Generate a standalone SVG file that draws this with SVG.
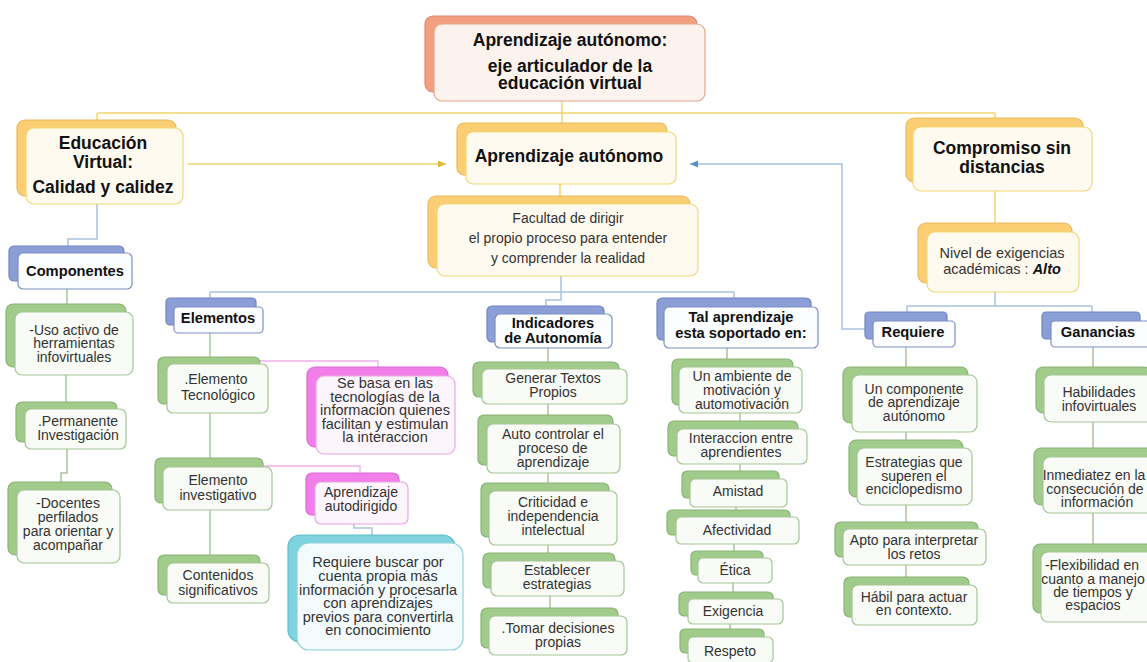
<svg xmlns="http://www.w3.org/2000/svg" width="1147" height="662" viewBox="0 0 1147 662">
<style>
text{font-family:"Liberation Sans",Arial,sans-serif;text-anchor:middle}
.h{font-weight:bold;font-size:17.5px;fill:#111}
.b{font-weight:bold;font-size:14.7px;fill:#111}
.t{font-size:14px;fill:#333}
.f{font-size:14px;fill:#333}
rect{stroke-width:1.2}
.bs{fill:#f2a080;stroke:#dc8c70}
.fs{fill:#fdf3ee;stroke:#e2a58a}
.bg{fill:#fbce74;stroke:#eab95c}
.fg{fill:#fffaf0;stroke:#f0d772}
.bb{fill:#8b9fd6;stroke:#7186c2}
.fb{fill:#fcfdff;stroke:#7d8fc2}
.bn{fill:#a0cb8b;stroke:#88b475}
.fn{fill:#f9fbf7;stroke:#a5c596}
.bp{fill:#f27fe9;stroke:#dc6ad3}
.fp{fill:#fdf5fc;stroke:#eaa6e4}
.bc{fill:#7ed3df;stroke:#63bdcb}
.fc{fill:#f3fbfc;stroke:#8dd2dc}
.cy{fill:none;stroke:#f2d66e;stroke-width:1.5}
.cb{fill:none;stroke:#a9c3df;stroke-width:1.5}
.cn{fill:none;stroke:#aac49b;stroke-width:1.5}
.cp{fill:none;stroke:#f0aee9;stroke-width:1.3}
</style>
<defs>
<marker id="ay" viewBox="0 0 10 10" refX="10" refY="5" markerWidth="9" markerHeight="8" orient="auto" markerUnits="userSpaceOnUse"><path d="M0,0.5 L10,5 L0,9.5 z" fill="#e9b934"/></marker>
<marker id="ab" viewBox="0 0 10 10" refX="10" refY="5" markerWidth="9" markerHeight="8" orient="auto" markerUnits="userSpaceOnUse"><path d="M0,0.5 L10,5 L0,9.5 z" fill="#5b8fc9"/></marker>
</defs>
<rect x="0" y="0" width="1147" height="662" fill="#ffffff" stroke="none"/>
<g id="connectors">
<path class="cy" d="M562,101 V124 M97,113 H995 M97,113 V120 M995,113 V118 M560,184 V196 M995,191 V223"/>
<path class="cy" d="M188,164 H446" marker-end="url(#ay)"/>
<path class="cb" d="M97,204 V239 H68 V246 M561,276 V300 H546 V306 M210,292 H734 M210,292 V298 M734,292 V298 M995,292 V306 M907,306 H1092 M907,306 V312 M1092,306 V312 M354,524 V528 H372 V535"/>
<path class="cb" d="M865,329 H842 V164 H690" marker-end="url(#ab)"/>
<path class="cn" d="M67,289 V304 M66,375 V402 M67,449 V473 H61 V482 M210,333 V357 M210,413 V458 M210,510 V555 M548,348 V362 M548,404 V415 M548,473 V483 M548,545 V553 M550,596 V608 M727,348 V359 M740,413 V421 M740,464 V471 M736,507 V510 M734,544 V551 M733,583 V592 M730,624 V629 M906,347 V367 M906,432 V440 M906,505 V522 M906,565 V577 M1093,347 V367 M1093,422 V448 M1093,513 V544"/>
<path class="cp" d="M260,361 H378 V367 M263,466 H360 V473"/>
</g>
<g id="root">
<rect class="bs" x="425" y="16" width="272" height="76" rx="8"/>
<rect class="fs" x="434" y="24" width="271" height="77" rx="8"/>
<text class="h"><tspan x="570" y="46">Aprendizaje autónomo:</tspan><tspan x="570" y="72">eje articulador de la</tspan><tspan x="570" y="89">educación virtual</tspan></text>
</g>
<g id="educacion">
<rect class="bg" x="17" y="120" width="159" height="76" rx="8"/>
<rect class="fg" x="26" y="128" width="157" height="76" rx="8"/>
<text class="h"><tspan x="103" y="149">Educación</tspan><tspan x="103" y="168">Virtual:</tspan><tspan x="103" y="193">Calidad y calidez</tspan></text>
</g>
<g id="aprendizaje">
<rect class="bg" x="457" y="123" width="210" height="52" rx="7"/>
<rect class="fg" x="466" y="132" width="210" height="52" rx="7"/>
<text class="h" x="569" y="162">Aprendizaje autónomo</text>
</g>
<g id="facultad">
<rect class="bg" x="428" y="196" width="262" height="72" rx="8"/>
<rect class="fg" x="437" y="204" width="261" height="72" rx="8"/>
<text class="f"><tspan x="568" y="223">Facultad de dirigir</tspan><tspan x="568" y="243">el propio proceso para entender</tspan><tspan x="568" y="263">y comprender la realidad</tspan></text>
</g>
<g id="compromiso">
<rect class="bg" x="906" y="118" width="177" height="64" rx="8"/>
<rect class="fg" x="913" y="127" width="179" height="64" rx="8"/>
<text class="h"><tspan x="1002" y="154">Compromiso sin</tspan><tspan x="1002" y="173">distancias</tspan></text>
</g>
<g id="nivel">
<rect class="bg" x="918" y="223" width="154" height="60" rx="8"/>
<rect class="fg" x="927" y="232" width="152" height="60" rx="8"/>
<text class="t" style="font-size:14.5px"><tspan x="1002" y="258">Nivel de exigencias</tspan><tspan x="1002" y="274">académicas : <tspan font-weight="bold" font-style="italic" fill="#111">Alto</tspan></tspan></text>
</g>
<g id="componentes">
<rect class="bb" x="9" y="246" width="115" height="35" rx="5"/>
<rect class="fb" x="18" y="253" width="114" height="36" rx="5"/>
<text class="b" x="75" y="276">Componentes</text>
</g>
<g id="uso">
<rect class="bn" x="6" y="304" width="120" height="63" rx="7"/>
<rect class="fn" x="15" y="312" width="118" height="63" rx="7"/>
<text class="t"><tspan x="74" y="334.5">-Uso activo de</tspan><tspan x="74" y="348">herramientas</tspan><tspan x="74" y="362">infovirtuales</tspan></text>
</g>
<g id="permanente">
<rect class="bn" x="16" y="402" width="101" height="40" rx="6"/>
<rect class="fn" x="25" y="409" width="101" height="40" rx="6"/>
<text class="t"><tspan x="78" y="425.5">.Permanente</tspan><tspan x="78" y="439.5">Investigación</tspan></text>
</g>
<g id="docentes">
<rect class="bn" x="8" y="482" width="104" height="73" rx="7"/>
<rect class="fn" x="17" y="490" width="103" height="73" rx="7"/>
<text class="t"><tspan x="68" y="508">-Docentes</tspan><tspan x="68" y="522">perfilados</tspan><tspan x="68" y="536">para orientar y</tspan><tspan x="68" y="550">acompañar</tspan></text>
</g>
<g id="elementos">
<rect class="bb" x="166" y="298" width="90" height="27" rx="4"/>
<rect class="fb" x="174" y="307" width="89" height="26" rx="4"/>
<text class="b" x="218" y="323">Elementos</text>
</g>
<g id="tecnologico">
<rect class="bn" x="158" y="357" width="102" height="47" rx="6"/>
<rect class="fn" x="167" y="364" width="101" height="49" rx="6"/>
<text class="t"><tspan x="216" y="384">.Elemento</tspan><tspan x="218" y="400">Tecnológico</tspan></text>
</g>
<g id="sebasa">
<rect class="bp" x="307" y="367" width="141" height="80" rx="8"/>
<rect class="fp" x="316" y="376" width="139" height="78" rx="8"/>
<text class="t" style="font-size:14.5px"><tspan x="385" y="388">Se basa en las</tspan><tspan x="385" y="401.5">tecnologías de la</tspan><tspan x="385" y="415">informacion quienes</tspan><tspan x="385" y="428.5">facilitan y estimulan</tspan><tspan x="385" y="442">la interaccion</tspan></text>
</g>
<g id="investigativo">
<rect class="bn" x="155" y="458" width="108" height="45" rx="6"/>
<rect class="fn" x="163" y="467" width="109" height="43" rx="6"/>
<text class="t"><tspan x="218" y="485">Elemento</tspan><tspan x="218" y="500">investigativo</tspan></text>
</g>
<g id="autodirigido">
<rect class="bp" x="306" y="473" width="93" height="42" rx="6"/>
<rect class="fp" x="315" y="482" width="93" height="42" rx="6"/>
<text class="t"><tspan x="361" y="497">Aprendizaje</tspan><tspan x="361" y="511">autodirigido</tspan></text>
</g>
<g id="requierebuscar">
<rect class="bc" x="288" y="535" width="167" height="107" rx="12"/>
<rect class="fc" x="297" y="543" width="166" height="107" rx="12"/>
<text class="t" style="font-size:14.5px"><tspan x="378" y="567">Requiere buscar por</tspan><tspan x="378" y="580.5">cuenta propia más</tspan><tspan x="378" y="594.5">información y procesarla</tspan><tspan x="378" y="608">con aprendizajes</tspan><tspan x="378" y="621.5">previos para convertirla</tspan><tspan x="378" y="635">en conocimiento</tspan></text>
</g>
<g id="contenidos">
<rect class="bn" x="158" y="555" width="102" height="40" rx="6"/>
<rect class="fn" x="167" y="563" width="102" height="40" rx="6"/>
<text class="t"><tspan x="218" y="580">Contenidos</tspan><tspan x="218" y="595">significativos</tspan></text>
</g>
<g id="indicadores">
<rect class="bb" x="487" y="306" width="117" height="36" rx="5"/>
<rect class="fb" x="495" y="314" width="117" height="34" rx="5"/>
<text class="b"><tspan x="553" y="328">Indicadores</tspan><tspan x="553" y="343">de Autonomía</tspan></text>
</g>
<g id="generar">
<rect class="bn" x="473" y="362" width="146" height="35" rx="6"/>
<rect class="fn" x="482" y="369" width="145" height="35" rx="6"/>
<text class="t"><tspan x="553" y="383">Generar Textos</tspan><tspan x="553" y="397">Propios</tspan></text>
</g>
<g id="autocontrolar">
<rect class="bn" x="478" y="415" width="135" height="50" rx="6"/>
<rect class="fn" x="487" y="424" width="133" height="49" rx="6"/>
<text class="t"><tspan x="553" y="439">Auto controlar el</tspan><tspan x="553" y="453">proceso de</tspan><tspan x="553" y="467">aprendizaje</tspan></text>
</g>
<g id="criticidad">
<rect class="bn" x="481" y="483" width="128" height="54" rx="6"/>
<rect class="fn" x="489" y="491" width="128" height="54" rx="6"/>
<text class="t"><tspan x="553" y="507">Criticidad e</tspan><tspan x="553" y="521">independencia</tspan><tspan x="553" y="535">intelectual</tspan></text>
</g>
<g id="establecer">
<rect class="bn" x="483" y="553" width="132" height="35" rx="6"/>
<rect class="fn" x="491" y="561" width="133" height="35" rx="6"/>
<text class="t"><tspan x="557" y="575">Establecer</tspan><tspan x="557" y="589">estrategias</tspan></text>
</g>
<g id="tomar">
<rect class="bn" x="481" y="608" width="137" height="40" rx="6"/>
<rect class="fn" x="489" y="616" width="138" height="39" rx="6"/>
<text class="t"><tspan x="558" y="633">.Tomar decisiones</tspan><tspan x="558" y="647">propias</tspan></text>
</g>
<g id="tal">
<rect class="bb" x="657" y="298" width="154" height="42" rx="5"/>
<rect class="fb" x="664" y="307" width="154" height="41" rx="5"/>
<text class="b"><tspan x="741" y="322">Tal aprendizaje</tspan><tspan x="741" y="338">esta soportado en:</tspan></text>
</g>
<g id="ambiente">
<rect class="bn" x="672" y="359" width="121" height="46" rx="6"/>
<rect class="fn" x="679" y="367" width="123" height="46" rx="6"/>
<text class="t"><tspan x="742" y="381">Un ambiente de</tspan><tspan x="742" y="395">motivación y</tspan><tspan x="742" y="408.5">automotivación</tspan></text>
</g>
<g id="interaccion">
<rect class="bn" x="668" y="421" width="130" height="35" rx="6"/>
<rect class="fn" x="677" y="429" width="130" height="35" rx="6"/>
<text class="t"><tspan x="741" y="443">Interaccion entre</tspan><tspan x="741" y="457">aprendientes</tspan></text>
</g>
<g id="amistad">
<rect class="bn" x="682" y="471" width="97" height="27" rx="5"/>
<rect class="fn" x="690" y="479" width="97" height="28" rx="5"/>
<text class="t" x="738" y="496">Amistad</text>
</g>
<g id="afectividad">
<rect class="bn" x="667" y="510" width="123" height="25" rx="5"/>
<rect class="fn" x="676" y="517" width="123" height="27" rx="5"/>
<text class="t" x="737" y="535">Afectividad</text>
</g>
<g id="etica">
<rect class="bn" x="691" y="551" width="72" height="24" rx="5"/>
<rect class="fn" x="698" y="558" width="74" height="25" rx="5"/>
<text class="t" x="735" y="575">Ética</text>
</g>
<g id="exigencia">
<rect class="bn" x="679" y="592" width="94" height="24" rx="5"/>
<rect class="fn" x="688" y="599" width="95" height="25" rx="5"/>
<text class="t" x="733" y="616">Exigencia</text>
</g>
<g id="respeto">
<rect class="bn" x="680" y="629" width="84" height="24" rx="5"/>
<rect class="fn" x="688" y="637" width="85" height="26" rx="5"/>
<text class="t" x="730" y="656">Respeto</text>
</g>
<g id="requiere">
<rect class="bb" x="865" y="312" width="82" height="27" rx="4"/>
<rect class="fb" x="873" y="321" width="82" height="26" rx="4"/>
<text class="b" x="913" y="337">Requiere</text>
</g>
<g id="ganancias">
<rect class="bb" x="1042" y="312" width="98" height="27" rx="4"/>
<rect class="fb" x="1051" y="321" width="100" height="26" rx="4"/>
<text class="b" x="1098" y="337">Ganancias</text>
</g>
<g id="componente">
<rect class="bn" x="843" y="367" width="125" height="56" rx="7"/>
<rect class="fn" x="852" y="375" width="125" height="57" rx="7"/>
<text class="t"><tspan x="914" y="394">Un componente</tspan><tspan x="914" y="407">de aprendizaje</tspan><tspan x="914" y="420.5">autónomo</tspan></text>
</g>
<g id="estrategias">
<rect class="bn" x="849" y="440" width="114" height="57" rx="7"/>
<rect class="fn" x="857" y="448" width="115" height="57" rx="7"/>
<text class="t"><tspan x="914" y="467">Estrategias que</tspan><tspan x="914" y="480.5">superen el</tspan><tspan x="914" y="494">enciclopedismo</tspan></text>
</g>
<g id="apto">
<rect class="bn" x="835" y="522" width="143" height="35" rx="6"/>
<rect class="fn" x="843" y="529" width="143" height="36" rx="6"/>
<text class="t"><tspan x="914" y="545">Apto para interpretar</tspan><tspan x="914" y="558.5">los retos</tspan></text>
</g>
<g id="habil">
<rect class="bn" x="844" y="577" width="125" height="40" rx="6"/>
<rect class="fn" x="852" y="585" width="125" height="40" rx="6"/>
<text class="t"><tspan x="914" y="601.5">Hábil para actuar</tspan><tspan x="914" y="615">en contexto.</tspan></text>
</g>
<g id="habilidades">
<rect class="bn" x="1036" y="367" width="115" height="46" rx="7"/>
<rect class="fn" x="1044" y="375" width="110" height="47" rx="7"/>
<text class="t"><tspan x="1099" y="397">Habilidades</tspan><tspan x="1099" y="410.5">infovirtuales</tspan></text>
</g>
<g id="inmediatez">
<rect class="bn" x="1034" y="448" width="120" height="57" rx="7"/>
<rect class="fn" x="1043" y="457" width="112" height="56" rx="7"/>
<text class="t"><tspan x="1094" y="480">Inmediatez en la</tspan><tspan x="1095" y="493.5">consecución de</tspan><tspan x="1097" y="507">información</tspan></text>
</g>
<g id="flexibilidad">
<rect class="bn" x="1033" y="544" width="120" height="69" rx="7"/>
<rect class="fn" x="1041" y="552" width="115" height="70" rx="7"/>
<text class="t"><tspan x="1092" y="570">-Flexibilidad en</tspan><tspan x="1093" y="583.5">cuanto a manejo</tspan><tspan x="1093" y="597">de tiempos y</tspan><tspan x="1093" y="610">espacios</tspan></text>
</g>
</svg>
